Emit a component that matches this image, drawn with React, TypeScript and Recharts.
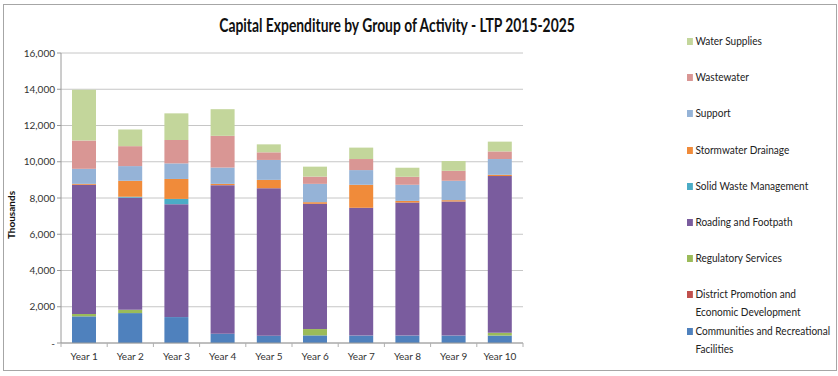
import React from 'react';
import { BarChart, Bar, XAxis, YAxis, CartesianGrid, Legend } from 'recharts';

const years = ['Year 1', 'Year 2', 'Year 3', 'Year 4', 'Year 5', 'Year 6', 'Year 7', 'Year 8', 'Year 9', 'Year 10'];

// values in thousands
const communities = [1470, 1650, 1430, 510, 400, 420, 410, 410, 410, 410];
const districtPromotion = [0, 0, 0, 0, 0, 0, 0, 0, 0, 0];
const regulatory = [130, 180, 0, 0, 0, 350, 0, 0, 0, 150];
const roading = [7130, 6190, 6230, 8200, 8140, 6910, 7050, 7340, 7400, 8650];
const solidWaste = [0, 50, 290, 0, 0, 0, 0, 0, 0, 0];
const stormwater = [50, 880, 1100, 70, 460, 90, 1270, 90, 70, 70];
const support = [830, 810, 860, 900, 1100, 1010, 810, 890, 1070, 870];
const wastewater = [1560, 1100, 1290, 1750, 420, 400, 610, 440, 550, 420];
const waterSupplies = [2800, 920, 1470, 1470, 440, 550, 630, 500, 540, 540];

const yTicks = [0, 2000, 4000, 6000, 8000, 10000, 12000, 14000, 16000];

const series = [
  { key: 'communities', name: 'Communities and Recreational Facilities', color: '#4F81BD', values: communities },
  { key: 'district', name: 'District Promotion and Economic Development', color: '#C0504D', values: districtPromotion },
  { key: 'regulatory', name: 'Regulatory Services', color: '#9BBB59', values: regulatory },
  { key: 'roading', name: 'Roading and Footpath', color: '#7A5C9E', values: roading },
  { key: 'solidWaste', name: 'Solid Waste Management', color: '#4BACC6', values: solidWaste },
  { key: 'stormwater', name: 'Stormwater Drainage', color: '#F08B3A', values: stormwater },
  { key: 'support', name: 'Support', color: '#95B3D7', values: support },
  { key: 'wastewater', name: 'Wastewater', color: '#D99694', values: wastewater },
  { key: 'water', name: 'Water Supplies', color: '#C3D69B', values: waterSupplies },
];

const data = years.map((year, i) => {
  const row: Record<string, string | number> = { year };
  series.forEach((s) => { row[s.key] = s.values[i]; });
  return row;
});

const FONT = 'Lato, sans-serif';

const XTick = (props: any) => {
  const { x, y, payload, index } = props;
  const half = payload.offset || 30.6;
  return (
    <g>
      <line x1={x - half} x2={x - half} y1={y - 8} y2={y - 4} stroke="#b0b0b0" />
      {index === years.length - 1 && (
        <line x1={x + half} x2={x + half} y1={y - 8} y2={y - 4} stroke="#b0b0b0" />
      )}
      <text x={x} y={y + 9} textAnchor="middle" fontSize={10} fill="#333" fontFamily={FONT}>
        {payload.value}
      </text>
    </g>
  );
};

// Calibri is narrower than Lato, so the legend is squeezed horizontally
const LegendBox = (props: any) => {
  const items = [...(props.payload || [])].reverse();
  return (
    <div style={{ fontFamily: FONT, fontSize: 12, color: '#222', transform: 'scaleX(0.84)', transformOrigin: 'left top' }}>
      {items.map((it: any) => (
        <div key={it.value} style={{ height: 36.2, display: 'flex', alignItems: 'flex-start' }}>
          <span style={{ width: 7, height: 7, background: it.color, marginTop: 6, marginRight: 3, flex: 'none' }} />
          <span style={{ width: 162, lineHeight: '18px', flex: 'none' }}>{it.value}</span>
        </div>
      ))}
    </div>
  );
};

export default function App() {
  return (
    <div style={{ position: 'absolute', left: 0, top: 0, width: 838, height: 376, background: '#fff' }}>
      <div
        style={{
          position: 'absolute', left: 3, top: 4, width: 834, height: 367,
          border: '1px solid #a6a6a6', boxSizing: 'border-box',
        }}
      />
      <div
        style={{
          position: 'absolute', left: 0, top: 14, width: 794, textAlign: 'center',
          fontFamily: FONT, fontWeight: 700, fontSize: 18, color: '#111',
          transform: 'scaleX(0.77)', transformOrigin: '397px 0',
        }}
      >
        Capital Expenditure by Group of Activity - LTP 2015-2025
      </div>
      <BarChart
        width={838}
        height={376}
        data={data}
        margin={{ top: 53, right: 165, bottom: 8, left: 0 }}
        barSize={24}
        style={{ position: 'absolute', left: 0, top: 0 }}
      >
        <CartesianGrid vertical={false} stroke="#c6c6c6" />
        <XAxis
          dataKey="year"
          height={25}
          axisLine={{ stroke: '#9a9a9a' }}
          tickLine={false}
          tick={<XTick />}
          interval={0}
        />
        <YAxis
          width={61}
          domain={[0, 16000]}
          ticks={yTicks}
          interval={0}
          axisLine={{ stroke: '#9a9a9a' }}
          tickLine={{ stroke: '#9a9a9a' }}
          tickSize={4}
          tick={{ fontSize: 10, fill: '#333', fontFamily: FONT }}
          tickFormatter={(v: number) => (v === 0 ? '-' : v.toLocaleString('en-US'))}
          label={{
            content: ({ viewBox }: any) => {
              const cx = viewBox.x + 15;
              const cy = viewBox.y + viewBox.height / 2 + 17;
              return (
                <text
                  x={cx}
                  y={cy}
                  transform={`rotate(-90, ${cx}, ${cy})`}
                  textAnchor="middle"
                  fontSize={10}
                  fontWeight={700}
                  fontFamily={FONT}
                  fill="#111"
                >
                  Thousands
                </text>
              );
            },
          }}
        />
        <Legend
          layout="vertical"
          align="right"
          verticalAlign="top"
          content={<LegendBox />}
          wrapperStyle={{ position: 'absolute', left: 687, top: 32, width: 150 }}
        />
        {series.map((s) => (
          <Bar
            key={s.key}
            dataKey={s.key}
            name={s.name}
            stackId="a"
            fill={s.color}
            isAnimationActive={false}
          />
        ))}
      </BarChart>
    </div>
  );
}
